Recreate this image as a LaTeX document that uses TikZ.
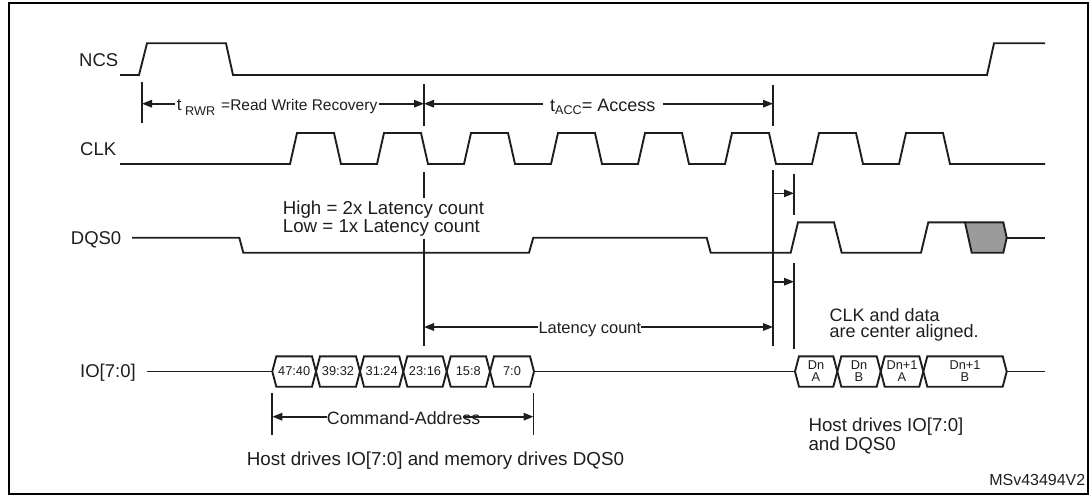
\documentclass[tikz,border=0pt]{standalone}
\usepackage{fontspec}
\setmainfont{Liberation Sans}
\usetikzlibrary{arrows.meta}
\definecolor{ink}{HTML}{1E1E1E}
\definecolor{shade}{HTML}{9B9B9B}
\newcommand\fsz[1]{\fontsize{#1}{#1}\selectfont}
\tikzset{
  wave/.style={line width=1.9pt, draw=ink, line join=miter},
  tickline/.style={line width=1.8pt, draw=ink},
  dim/.style={line width=1.6pt, draw=ink, -{Triangle[length=10pt,width=7.5pt]}},
  sig/.style={inner sep=0pt, text=ink, font=\fsz{18.5}},
  txt/.style={inner sep=0pt, text=ink},
  cell/.style={inner sep=0pt, text=ink, align=center, font=\fontsize{12.8}{12.4}\selectfont},
}
\newcommand\buscell[2]{\draw[wave] (#1,371.5) -- ({#1+4},356.3) -- ({#2-4},356.3) -- (#2,371.5) -- ({#2-4},386.7) -- ({#1+4},386.7) -- cycle;}
\begin{document}
\begin{tikzpicture}[x=1pt,y=-1pt]
\useasboundingbox (0,0) rectangle (1091,495);
\draw[line width=2.2pt, draw=black] (9.3,3) rectangle (1088,494);

% signal names
\node[sig, anchor=base west] (ncs) at (79,66.7) {NCS};
\node[sig, anchor=base west] (clk) at (80,155) {CLK};
\node[sig, anchor=base west] (dqs) at (70.7,244.5) {DQS0};
\node[sig, anchor=base west] (io) at (80,377.5) {IO[7:0]};

% NCS
\draw[wave] (120,75) -- (139,75) -- (147,43.3) -- (226,43.3) -- (233,75) -- (987,75) -- (994,43.3) -- (1045,43.3);
% CLK
\draw[wave] (120,164) foreach \k in {0,...,7} { -- ({290+87*\k},164) -- ({297+87*\k},133) -- ({334+87*\k},133) -- ({341+87*\k},164) } -- (1045,164);
% DQS0
\draw[wave] (132,237.7) -- (239.3,237.7) -- (243.3,252.7) -- (529,252.7) -- (533.3,237.7) -- (706.7,237.7) -- (710.7,252.7) -- (790.7,252.7) -- (798,222.3) -- (834,222.3) -- (841.7,252.7) -- (921,252.7) -- (928.3,222.3) -- (965,222.3);
\draw[wave, fill=shade] (965,222.3) -- (1003.3,222.3) -- (1006.7,237.7) -- (1003.3,252.7) -- (971.7,252.7) -- cycle;
\draw[wave] (1006.7,237.7) -- (1045,237.7);

% IO[7:0]
\draw[wave] (146.7,371.5) -- (272.3,371.5);
\buscell{272.3}{316}
\buscell{316}{360}
\buscell{360}{403.3}
\buscell{403.3}{446.7}
\buscell{446.7}{490}
\buscell{490}{534}
\draw[wave] (534,371.5) -- (795,371.5);
\buscell{795}{837.3}
\buscell{837.3}{880.7}
\buscell{880.7}{923.3}
\buscell{923.3}{1006.7}
\draw[wave] (1006.7,371.5) -- (1045,371.5);

\node[cell] (c1) at (294.2,371) {47:40};
\node[cell] (c2) at (338,371) {39:32};
\node[cell] (c3) at (381.7,371) {31:24};
\node[cell] (c4) at (425,371) {23:16};
\node[cell] (c5) at (468.3,371) {15:8};
\node[cell] (c6) at (512,371) {7:0};
\node[cell] (d1) at (816,371) {Dn\\A};
\node[cell] (d2) at (859,371) {Dn\\B};
\node[cell] (d3) at (902,371) {Dn+1\\A};
\node[cell] (d4) at (965,371) {Dn+1\\B};

% marker lines
\draw[tickline] (142,82) -- (142,123);
\draw[tickline] (424,84) -- (424,126);
\draw[tickline] (773,85) -- (773,126);
\draw[tickline] (424,172) -- (424,198);
\draw[tickline] (424,239.3) -- (424,346);
\draw[tickline] (773,170) -- (773,346);
\draw[tickline] (794,174) -- (794,215);
\draw[tickline] (794,263) -- (794,349);
\draw[tickline] (272.3,393.3) -- (272.3,435);
\draw[tickline] (533.5,393.3) -- (533.5,435);

% arrow end points
\coordinate (r1) at (142,103.7);
\coordinate (r2) at (424,103.7);
\coordinate (r3) at (773,103.7);
\coordinate (s1) at (773,193.3);
\coordinate (s2) at (794,193.3);
\coordinate (u1) at (773,281.7);
\coordinate (u2) at (794,281.7);
\coordinate (l1) at (424,327);
\coordinate (l2) at (773,327);
\coordinate (m1) at (272.3,416.7);
\coordinate (m2) at (533.5,416.7);
\coordinate (m3) at (463,416.7);

% t_RWR
\node[txt, inner xsep=2pt, anchor=base west] (trwr) at (174.7,110.7)
  {\fsz{17}t\hspace{3.5pt}\raisebox{-4.3pt}{\fsz{12.7}RWR}\hspace{6pt}\fsz{15.5}=Read Write Recovery};
\draw[dim] (trwr.west |- r1) -- (r1);
\draw[dim] (trwr.east |- r2) -- (r2);

% t_ACC
\node[txt, inner xsep=7pt, anchor=base west] (tacc) at (543,111.7)
  {\fsz{18}t\raisebox{-2.3pt}{\fsz{12.6}ACC}\fsz{18}= Access};
\draw[dim] (tacc.west |- r2) -- (r2);
\draw[dim] (tacc.east |- r3) -- (r3);

% small skew arrows
\draw[dim] (s1) -- (s2);
\draw[dim] (u1) -- (u2);

% latency text
\node[txt, anchor=base west, font=\fsz{18.7}] (hi) at (282.7,214) {High = 2x Latency count};
\node[txt, anchor=base west, font=\fsz{18.7}] (lo) at (282.7,232.7) {Low = 1x Latency count};

% latency count
\node[txt, anchor=base west, font=\fsz{16.5}] (lat) at (538.3,333.3) {Latency count};
\draw[dim] (lat.west |- l1) -- (l1);
\draw[dim] (lat.east |- l2) -- (l2);

% command-address
\node[txt, anchor=base west, font=\fsz{17.8}] (cmd) at (326.7,424) {Command-Address};
\draw[dim] (cmd.west |- m1) -- (m1);
\draw[dim] (m3) -- (m2);

% notes
\node[txt, anchor=base west, font=\fsz{18}] (ca1) at (829.3,321) {CLK and data};
\node[txt, anchor=base west, font=\fsz{18}] (ca2) at (829.3,337.7) {are center aligned.};
\node[txt, anchor=base west, font=\fsz{18.8}] (hd) at (246.7,465) {Host drives IO[7:0] and memory drives DQS0};
\node[txt, anchor=base west, font=\fsz{18.7}] (hh1) at (808.3,431.7) {Host drives IO[7:0]};
\node[txt, anchor=base west, font=\fsz{18.7}] (hh2) at (808.3,450.5) {and DQS0};
\node[txt, anchor=base east, font=\fsz{16}] (id) at (1085.5,485) {MSv43494V2};
\end{tikzpicture}
\end{document}
